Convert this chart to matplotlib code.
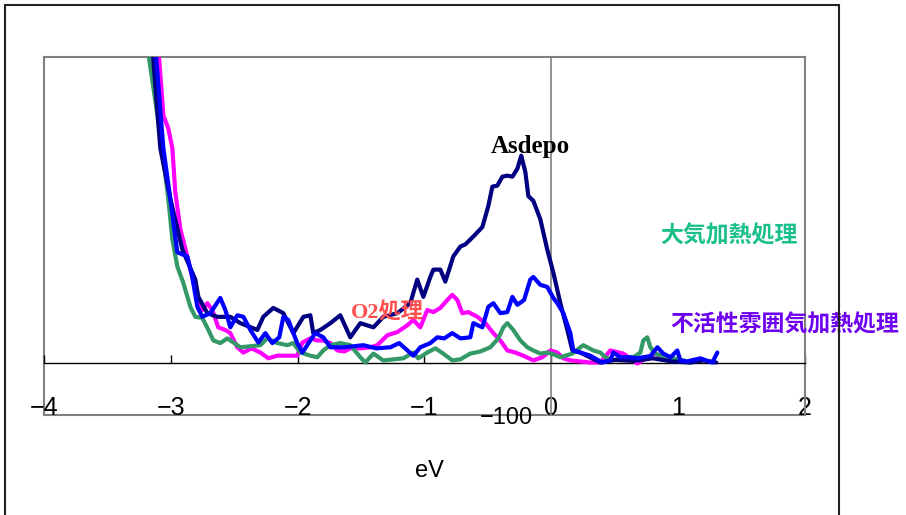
import matplotlib
matplotlib.use('Agg')
import matplotlib.pyplot as plt
from matplotlib import font_manager
from matplotlib.patches import Rectangle

names = {f.name for f in font_manager.fontManager.ttflist}
NARROW = 'Liberation Sans Narrow' if 'Liberation Sans Narrow' in names else 'Liberation Sans'
CJK = 'Noto Sans CJK JP'

# ---------------- data ----------------
asdepo_x = [-3.146, -3.083, -3.004, -2.909, -2.807, -2.783, -2.712, -2.633, -2.531, -2.452,
            -2.318, -2.271, -2.192, -2.113, -2.034, -1.955, -1.900, -1.877, -1.821, -1.742,
            -1.664, -1.585, -1.506, -1.403, -1.325, -1.214, -1.112, -1.057, -1.009, -0.954,
            -0.930, -0.875, -0.836, -0.773, -0.717, -0.678, -0.615, -0.544, -0.497, -0.465,
            -0.426, -0.386, -0.347, -0.307, -0.268, -0.237, -0.205, -0.181, -0.142, -0.087,
            -0.032, 0.016, 0.071, 0.126, 0.166, 0.229, 0.386, 0.50, 0.65, 0.80, 0.95, 1.10, 1.20, 1.30]
asdepo_y = [601, 408, 312, 215, 158, 125, 94, 87, 87, 75,
            62, 87, 104, 94, 56, 87, 90, 56, 62, 75,
            90, 48, 75, 67, 87, 94, 113, 158, 125, 163,
            177, 177, 154, 202, 221, 225, 240, 258, 298, 335,
            337, 354, 356, 354, 369, 394, 363, 317, 308, 273,
            215, 171, 113, 62, 23, 19, 0, 5, 3, 8, 2, 0, 4, 0]

inert_x = [-3.122, -3.059, -3.004, -2.949, -2.870, -2.831, -2.791, -2.752, -2.689, -2.610,
           -2.570, -2.531, -2.476, -2.428, -2.373, -2.310, -2.255, -2.200, -2.145, -2.113,
           -2.074, -2.003, -1.963, -1.900, -1.861, -1.798, -1.742, -1.632, -1.482, -1.380,
           -1.269, -1.200, -1.088, -1.033, -0.954, -0.899, -0.844, -0.781, -0.717, -0.639,
           -0.615, -0.544, -0.497, -0.457, -0.402, -0.347, -0.307, -0.268, -0.215, -0.166,
           -0.142, -0.087, -0.032, 0.016, 0.047, 0.095, 0.150, 0.173, 0.229, 0.307,
           0.402, 0.465, 0.489, 0.544, 0.623, 0.680, 0.720, 0.780, 0.836, 0.883,
           0.940, 0.993, 1.017, 1.070, 1.175, 1.220, 1.269, 1.309]
inert_y = [601, 408, 312, 210, 202, 163, 106, 87, 94, 123,
           100, 67, 90, 87, 62, 38, 56, 37, 48, 87,
           81, 37, 19, 42, 56, 48, 29, 29, 33, 27,
           29, 37, 13, 29, 37, 48, 46, 56, 46, 48,
           75, 67, 106, 113, 94, 96, 125, 110, 119, 158,
           163, 148, 144, 123, 113, 94, 56, 23, 19, 13,
           0, 4, 19, 10, 10, 8, 10, 12, 29, 17,
           10, 23, 4, 2, 8, 4, 0, 19]

o2_x = [-3.099, -3.059, -3.020, -2.988, -2.965, -2.925, -2.870, -2.807, -2.752, -2.712,
        -2.673, -2.626, -2.571, -2.531, -2.476, -2.428, -2.365, -2.294, -2.231, -2.160,
        -2.082, -2.003, -1.963, -1.900, -1.845, -1.798, -1.742, -1.687, -1.632, -1.585,
        -1.506, -1.427, -1.372, -1.293, -1.214, -1.135, -1.088, -1.033, -0.978, -0.930,
        -0.875, -0.820, -0.781, -0.741, -0.702, -0.654, -0.583, -0.520, -0.457, -0.402,
        -0.347, -0.284, -0.221, -0.142, -0.071, -0.008, 0.047, 0.095, 0.150, 0.229,
        0.307, 0.386, 0.465, 0.568, 0.678, 0.757, 0.820, 0.860]
o2_y = [601, 471, 446, 408, 325, 254, 202, 138, 100, 113,
        100, 67, 62, 56, 29, 19, 27, 19, 8, 13,
        13, 13, 38, 46, 42, 42, 37, 23, 21, 27,
        27, 29, 33, 52, 58, 71, 81, 67, 100, 96,
        104, 119, 129, 119, 94, 96, 87, 75, 56, 42,
        23, 19, 13, 4, 10, 23, 19, 8, 4, 2,
        0, 0, 23, 17, -2, 10, 17, 12]

air_x = [-3.185, -3.146, -3.106, -3.059, -3.020, -2.988, -2.949, -2.902, -2.846, -2.807,
         -2.752, -2.704, -2.665, -2.610, -2.555, -2.500, -2.452, -2.373, -2.294, -2.239,
         -2.160, -2.082, -2.034, -1.979, -1.900, -1.845, -1.798, -1.742, -1.664, -1.585,
         -1.506, -1.467, -1.403, -1.325, -1.246, -1.167, -1.088, -1.049, -0.978, -0.915,
         -0.852, -0.781, -0.717, -0.639, -0.560, -0.481, -0.418, -0.378, -0.347, -0.300,
         -0.244, -0.189, -0.142, -0.087, -0.032, 0.023, 0.071, 0.166, 0.229, 0.252,
         0.331, 0.386, 0.426, 0.489, 0.568, 0.647, 0.702, 0.725, 0.757, 0.781,
         0.820, 0.900, 0.962, 1.040, 1.096]
air_y = [601, 537, 471, 388, 312, 235, 183, 152, 106, 87,
         85, 62, 42, 37, 46, 37, 29, 31, 33, 46,
         37, 33, 37, 19, 13, 10, 23, 33, 37, 33,
         10, 0, 17, 4, 6, 8, 19, 8, 19, 27,
         17, 4, 6, 17, 21, 29, 46, 67, 75, 62,
         42, 29, 23, 17, 19, 15, 10, 17, 29, 33,
         23, 19, 10, 4, 10, 10, 19, 42, 48, 29,
         17, 10, 8, 4, 0]

xticks = [-4, -3, -2, -1, 0, 1, 2]
xtick_labels = ['\u22124', '\u22123', '\u22122', '\u22121', '0', '1', '2']
yticks = [-100]
ytick_labels = ['\u2212100']

label_asdepo = 'Asdepo'
label_o2 = 'O2処理'
label_air = '大気加熱処理'
label_inert = '不活性雰囲気加熱処理'

# ---------------- figure ----------------
fig = plt.figure(figsize=(9.06, 5.15), dpi=100)
ax = fig.add_axes([44 / 906, 1 - 415 / 515, (805 - 44) / 906, (415 - 57) / 515])

lw = 3.0
style = dict(lw=lw, solid_joinstyle='round', solid_capstyle='round')
ax.plot(o2_x, o2_y, color='#FF00FF', zorder=3, **style)
ax.plot(air_x, air_y, color='#339966', zorder=4, **style)
ax.plot(asdepo_x, asdepo_y, color='#000080', zorder=5, **style)
ax.plot(inert_x, inert_y, color='#0000FF', zorder=6, **style)

ax.set_xlim(-4, 2)
ax.set_ylim(-100, 582)

gray = '#808080'
ax.spines['top'].set_color(gray)
ax.spines['top'].set_linewidth(1.5)
ax.spines['right'].set_color(gray)
ax.spines['right'].set_linewidth(1.5)
ax.spines['left'].set_position(('data', 0))
ax.spines['left'].set_color(gray)
ax.spines['left'].set_linewidth(1.2)
ax.spines['bottom'].set_position(('data', 0))
ax.spines['bottom'].set_color('black')
ax.spines['bottom'].set_linewidth(1.0)
ax.axvline(-4, color=gray, lw=1.5, clip_on=False, zorder=1)
ax.axhline(-100, color=gray, lw=1.5, clip_on=False, zorder=1)

ax.set_xticks(xticks)
ax.set_xticklabels(xtick_labels, family=NARROW, fontsize=18)
ax.tick_params(axis='x', direction='in', length=6, width=1, color='black', pad=24)
ax.set_yticks(yticks)
ax.set_yticklabels(ytick_labels, family=NARROW, fontsize=17)
ax.tick_params(axis='y', length=0, pad=13)

ax.set_xlabel('eV', family=NARROW, fontsize=17)
ax.xaxis.set_label_coords(0.507, -0.125)

ax.text(-0.166, 412, label_asdepo, family=['Liberation Serif'], fontweight='bold',
        fontsize=18, ha='center', va='center', zorder=7)
ax.text(-1.293, 94, label_o2, family=['Liberation Serif', CJK], fontweight='bold',
        fontsize=16, color='#FF5050', ha='center', va='center', zorder=7)
ax.text(1.396, 242, label_air, family=[CJK, 'DejaVu Sans'], fontweight='bold',
        fontsize=16.5, color='#1ABF8C', ha='center', va='center', zorder=7)
ax.text(1.837, 71, label_inert, family=[CJK, 'DejaVu Sans'], fontweight='bold',
        fontsize=16.5, color='#6E00F0', ha='center', va='center', zorder=7, clip_on=False)

fig.patches.append(Rectangle((4.5 / 906, -0.1), (838.5 - 4.5) / 906, 1.1 - 5 / 515,
                             transform=fig.transFigure, fill=False, ec='#222222', lw=1.5))

fig.savefig('out.png', dpi=100)
